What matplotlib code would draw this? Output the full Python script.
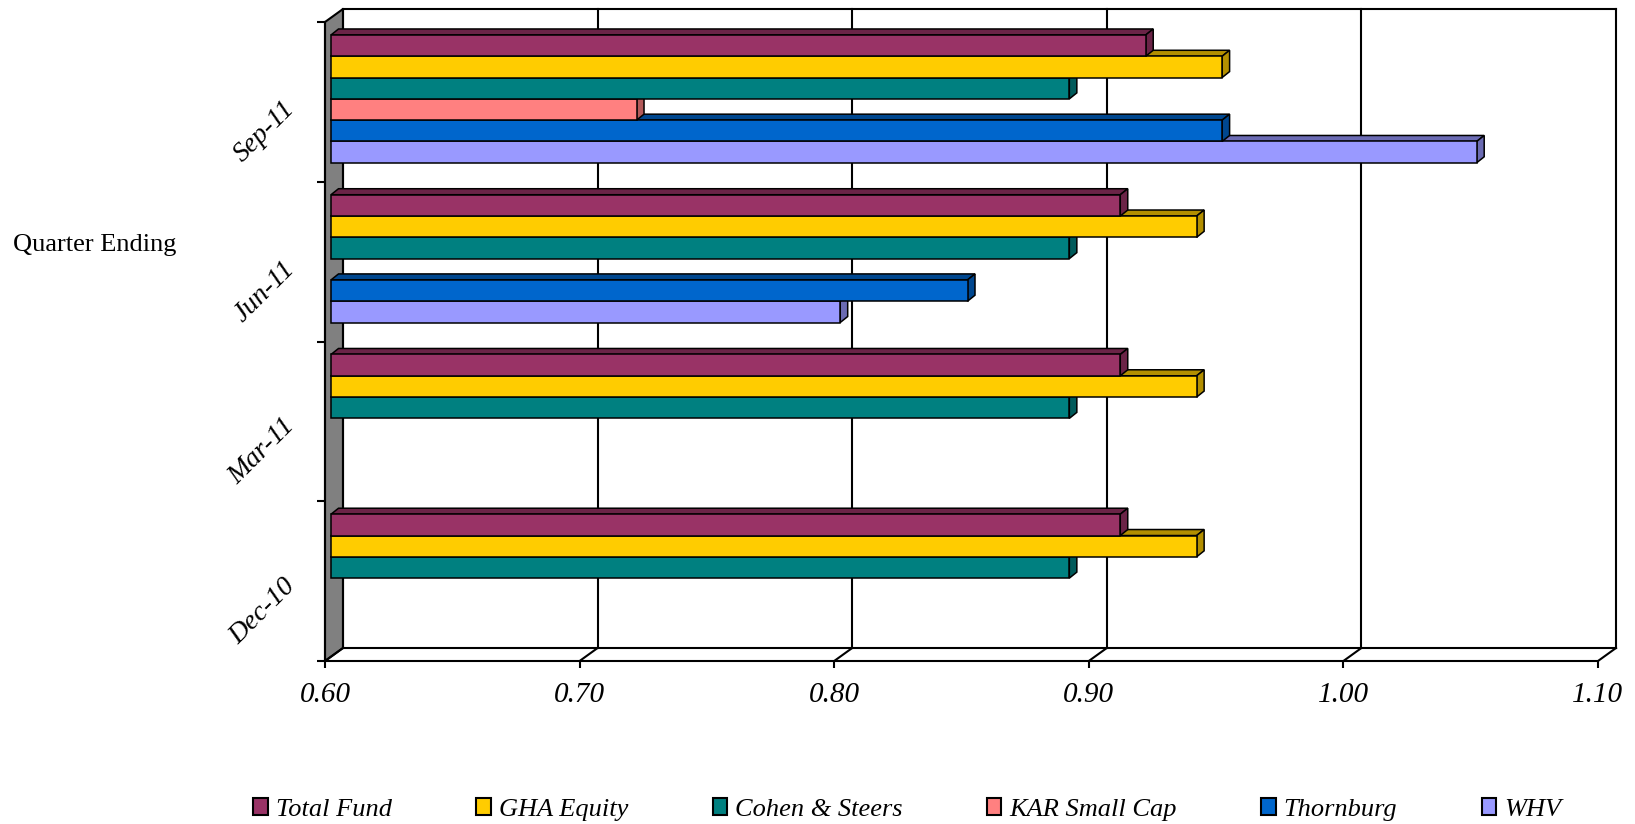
import matplotlib
matplotlib.use('Agg')
import matplotlib.pyplot as plt
import matplotlib.colors as mcolors
from matplotlib.patches import Polygon, Patch
import numpy as np

plt.rcParams['font.family'] = ['Liberation Serif', 'DejaVu Serif']

quarters = ['Dec-10', 'Mar-11', 'Jun-11', 'Sep-11']
funds = ['Total Fund', 'GHA Equity', 'Cohen & Steers', 'KAR Small Cap', 'Thornburg', 'WHV']
total_fund = [0.91, 0.91, 0.91, 0.92]
gha_equity = [0.94, 0.94, 0.94, 0.95]
cohen_steers = [0.89, 0.89, 0.89, 0.89]
kar_small_cap = [np.nan, np.nan, np.nan, 0.72]
thornburg = [np.nan, np.nan, 0.85, 0.95]
whv = [np.nan, np.nan, 0.80, 1.05]
colors = ['#993366', '#FFCC00', '#008080', '#FF8080', '#0066CC', '#9999FF']
x_ticks = [0.60, 0.70, 0.80, 0.90, 1.00, 1.10]

series = [total_fund, gha_equity, cohen_steers, kar_small_cap, thornburg, whv]


def shade(c, f=0.7):
    return tuple(f * v for v in mcolors.to_rgb(c))


W, H = 1635, 824
fig = plt.figure(figsize=(W / 100, H / 100), dpi=100)

# front plane of the box in pixels
L, R, T, B = 325, 1598, 22, 661
ax = fig.add_axes([L / W, 1 - B / H, (R - L) / W, (B - T) / H])
ax.set_xlim(0.6, 1.1)
ax.set_ylim(0, 4)
kx = 0.5 / (R - L)
ky = 4 / (B - T)

wx, wy = 18 * kx, 13 * ky    # depth of the walls
bx, by = 7.5 * kx, 6 * ky    # depth of a bar
sx, sy = 6 * kx, 3 * ky      # bars sit a little behind the front plane

# left wall
ax.add_patch(Polygon([(0.6, 0), (0.6, 4), (0.6 + wx, 4 + wy), (0.6 + wx, wy)],
                     closed=True, fc='#808080', ec='black', lw=1.5,
                     clip_on=False, zorder=1))
# back wall, gridlines and floor
for x in x_ticks:
    ax.plot([x + wx, x + wx], [wy, 4 + wy], color='black', lw=1.5,
            clip_on=False, zorder=1)
    ax.plot([x, x + wx], [0, wy], color='black', lw=1.5, clip_on=False, zorder=1)
ax.plot([0.6 + wx, 1.1 + wx], [4 + wy, 4 + wy], color='black', lw=1.5,
        clip_on=False, zorder=1)
ax.plot([0.6 + wx, 1.1 + wx], [wy, wy], color='black', lw=1.5,
        clip_on=False, zorder=1)

# bars, drawn bottom-up so the upper bar hides the top face below it
bh = 0.8 / len(funds)
z = 3
for i in range(len(quarters)):
    for k in reversed(range(len(funds))):
        v = series[k][i]
        if np.isnan(v):
            continue
        yc = i + 0.5 + (2.5 - k) * bh + sy
        y0, y1 = yc - bh / 2, yc + bh / 2
        x0 = 0.6 + sx
        x1 = x0 + (v - 0.6)
        dark = shade(colors[k])
        ax.add_patch(Polygon([(x0, y1), (x1, y1), (x1 + bx, y1 + by), (x0 + bx, y1 + by)],
                             closed=True, fc=dark, ec='black', lw=1.1,
                             clip_on=False, zorder=z))
        ax.add_patch(Polygon([(x1, y0), (x1 + bx, y0 + by), (x1 + bx, y1 + by), (x1, y1)],
                             closed=True, fc=dark, ec='black', lw=1.1,
                             clip_on=False, zorder=z + 0.1))
        ax.barh(yc, v - 0.6, left=x0, height=bh, color=colors[k],
                edgecolor='black', lw=1.1, zorder=z + 0.2, clip_on=False)
        z += 1

for s in ['top', 'right']:
    ax.spines[s].set_visible(False)
for s in ['left', 'bottom']:
    ax.spines[s].set_linewidth(1.5)
    ax.spines[s].set_zorder(2)

ax.set_xticks(x_ticks)
ax.set_xticklabels(['%.2f' % t for t in x_ticks], fontsize=21, style='italic')
ax.set_yticks(range(len(quarters) + 1))
ax.set_yticklabels([])
ax.tick_params(axis='x', direction='out', length=5, width=1.5, pad=10)
ax.tick_params(axis='y', direction='out', length=6, width=1.5)

for i, q in enumerate(quarters):
    ax.text(0.6 - 25 * kx, i + 0.5 - 30 * ky, q, rotation=45, ha='right',
            va='center', fontsize=20, style='italic', clip_on=False)

fig.text(13 / W, 1 - 245 / H, 'Quarter Ending', ha='left', va='center', fontsize=19)

handles = [Patch(facecolor=c, edgecolor='black', lw=1.5) for c in colors]
fig.legend(handles, funds, loc='center', bbox_to_anchor=(0.555, 0.018), ncol=6,
           frameon=False, prop={'style': 'italic', 'size': 19},
           handlelength=0.55, handleheight=0.65, handletextpad=0.3,
           columnspacing=3.2)

fig.savefig('out.png', dpi=100)
